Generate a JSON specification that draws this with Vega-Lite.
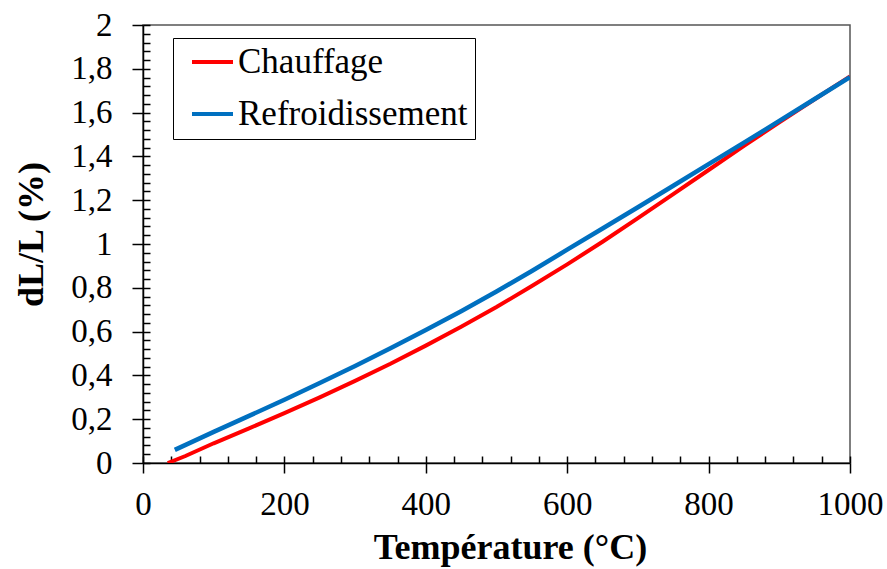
{
  "$schema": "https://vega.github.io/schema/vega-lite/v6.json",
  "width": 707,
  "height": 438,
  "autosize": "none",
  "padding": {"left": 143, "top": 25, "right": 37, "bottom": 106},
  "background": "white",
  "config": {
    "view": {"stroke": "#555555", "strokeWidth": 1.5},
    "font": "Liberation Serif"
  },
  "datasets": {
    "chauffage": [
      {"serie": "Chauffage", "T": 35, "dL": 0},
      {"serie": "Chauffage", "T": 60, "dL": 0.032},
      {"serie": "Chauffage", "T": 100, "dL": 0.09},
      {"serie": "Chauffage", "T": 150, "dL": 0.158},
      {"serie": "Chauffage", "T": 200, "dL": 0.228},
      {"serie": "Chauffage", "T": 250, "dL": 0.3},
      {"serie": "Chauffage", "T": 300, "dL": 0.375},
      {"serie": "Chauffage", "T": 350, "dL": 0.453},
      {"serie": "Chauffage", "T": 400, "dL": 0.536},
      {"serie": "Chauffage", "T": 450, "dL": 0.622},
      {"serie": "Chauffage", "T": 500, "dL": 0.712},
      {"serie": "Chauffage", "T": 550, "dL": 0.808},
      {"serie": "Chauffage", "T": 600, "dL": 0.907},
      {"serie": "Chauffage", "T": 650, "dL": 1.01},
      {"serie": "Chauffage", "T": 700, "dL": 1.118},
      {"serie": "Chauffage", "T": 750, "dL": 1.228},
      {"serie": "Chauffage", "T": 800, "dL": 1.338},
      {"serie": "Chauffage", "T": 850, "dL": 1.448},
      {"serie": "Chauffage", "T": 900, "dL": 1.556},
      {"serie": "Chauffage", "T": 950, "dL": 1.661},
      {"serie": "Chauffage", "T": 1000, "dL": 1.765}
    ],
    "refroidissement": [
      {"serie": "Refroidissement", "T": 45, "dL": 0.06},
      {"serie": "Refroidissement", "T": 100, "dL": 0.142},
      {"serie": "Refroidissement", "T": 150, "dL": 0.215},
      {"serie": "Refroidissement", "T": 200, "dL": 0.289},
      {"serie": "Refroidissement", "T": 250, "dL": 0.365},
      {"serie": "Refroidissement", "T": 300, "dL": 0.443},
      {"serie": "Refroidissement", "T": 350, "dL": 0.524},
      {"serie": "Refroidissement", "T": 400, "dL": 0.607},
      {"serie": "Refroidissement", "T": 450, "dL": 0.693},
      {"serie": "Refroidissement", "T": 500, "dL": 0.783},
      {"serie": "Refroidissement", "T": 550, "dL": 0.877},
      {"serie": "Refroidissement", "T": 600, "dL": 0.974},
      {"serie": "Refroidissement", "T": 650, "dL": 1.071},
      {"serie": "Refroidissement", "T": 700, "dL": 1.168},
      {"serie": "Refroidissement", "T": 750, "dL": 1.266},
      {"serie": "Refroidissement", "T": 800, "dL": 1.365},
      {"serie": "Refroidissement", "T": 850, "dL": 1.463},
      {"serie": "Refroidissement", "T": 900, "dL": 1.562},
      {"serie": "Refroidissement", "T": 950, "dL": 1.662},
      {"serie": "Refroidissement", "T": 1000, "dL": 1.762}
    ]
  },
  "layer": [
    {
      "data": {"name": "chauffage"},
      "mark": {"type": "line", "strokeWidth": 4, "clip": true},
      "encoding": {
        "x": {
          "field": "T", "type": "quantitative",
          "scale": {"domain": [0, 1000], "nice": false, "zero": false},
          "axis": {
            "orient": "bottom",
            "values": [0, 200, 400, 600, 800, 1000],
            "format": "d",
            "grid": false,
            "domainColor": "black", "domainWidth": 1.5,
            "tickColor": "black", "tickWidth": 1.5, "tickSize": 10,
            "labelFont": "Liberation Serif", "labelFontSize": 33, "labelColor": "black",
            "labelPadding": 15, "labelFlush": false, "labelOverlap": false,
            "title": "Température (°C)",
            "titleFont": "Liberation Serif", "titleFontSize": 36, "titleFontWeight": "bold",
            "titleColor": "black",
            "titleX": 367, "titleY": 95, "titleBaseline": "alphabetic", "titleAnchor": "middle", "titleAlign": "center"
          }
        },
        "y": {
          "field": "dL", "type": "quantitative",
          "scale": {"domain": [0, 2], "nice": false, "zero": false},
          "axis": {
            "orient": "left",
            "values": [0, 0.2, 0.4, 0.6, 0.8, 1, 1.2, 1.4, 1.6, 1.8, 2],
            "labelExpr": "replace(toString(datum.value), '.', ',')",
            "grid": false,
            "domainColor": "black", "domainWidth": 1.5,
            "tickColor": "black", "tickWidth": 1.5, "tickSize": 11,
            "labelFont": "Liberation Serif", "labelFontSize": 33, "labelColor": "black",
            "labelPadding": 20, "labelFlush": false, "labelOverlap": false,
            "title": "dL/L (%)",
            "titleFont": "Liberation Serif", "titleFontSize": 36, "titleFontWeight": "bold",
            "titleColor": "black",
            "titleAngle": -90, "titleX": -101, "titleY": 209, "titleBaseline": "alphabetic", "titleAlign": "center"
          }
        },
        "color": {
          "field": "serie", "type": "nominal",
          "scale": {"domain": ["Chauffage", "Refroidissement"], "range": ["#FF0000", "#0070C0"]},
          "legend": {
            "orient": "none", "legendX": 30, "legendY": 13,
            "title": null,
            "strokeColor": "black", "fillColor": "white", "padding": 7,
            "symbolType": "stroke", "symbolSize": 1681, "symbolStrokeWidth": 4,
            "symbolOffset": 10, "clipHeight": 34,
            "labelFont": "Liberation Serif", "labelFontSize": 35, "labelColor": "black",
            "labelOffset": 3, "rowPadding": 17, "labelLimit": 400
          }
        }
      }
    },
    {
      "data": {"name": "refroidissement"},
      "mark": {"type": "line", "strokeWidth": 4.5, "clip": true},
      "encoding": {
        "x": {
          "field": "T", "type": "quantitative",
          "scale": {"domain": [0, 1000], "nice": false, "zero": false},
          "axis": {
            "orient": "bottom",
            "values": [0, 40, 80, 120, 160, 200, 240, 280, 320, 360, 400, 440, 480, 520, 560, 600, 640, 680, 720, 760, 800, 840, 880, 920, 960, 1000],
            "grid": false, "domain": false, "labels": false, "title": null,
            "tickColor": "black", "tickWidth": 1.5, "tickSize": -7
          }
        },
        "y": {
          "field": "dL", "type": "quantitative",
          "scale": {"domain": [0, 2], "nice": false, "zero": false},
          "axis": {
            "orient": "left",
            "values": [0, 0.04, 0.08, 0.12, 0.16, 0.2, 0.24, 0.28, 0.32, 0.36, 0.4, 0.44, 0.48, 0.52, 0.56, 0.6, 0.64, 0.68, 0.72, 0.76, 0.8, 0.84, 0.88, 0.92, 0.96, 1, 1.04, 1.08, 1.12, 1.16, 1.2, 1.24, 1.28, 1.32, 1.36, 1.4, 1.44, 1.48, 1.52, 1.56, 1.6, 1.64, 1.68, 1.72, 1.76, 1.8, 1.84, 1.88, 1.92, 1.96, 2],
            "grid": false, "domain": false, "labels": false, "title": null,
            "tickColor": "black", "tickWidth": 1.5, "tickSize": -7
          }
        },
        "color": {"field": "serie", "type": "nominal"}
      }
    }
  ],
  "resolve": {"scale": {"x": "independent", "y": "independent", "color": "shared"}}
}
